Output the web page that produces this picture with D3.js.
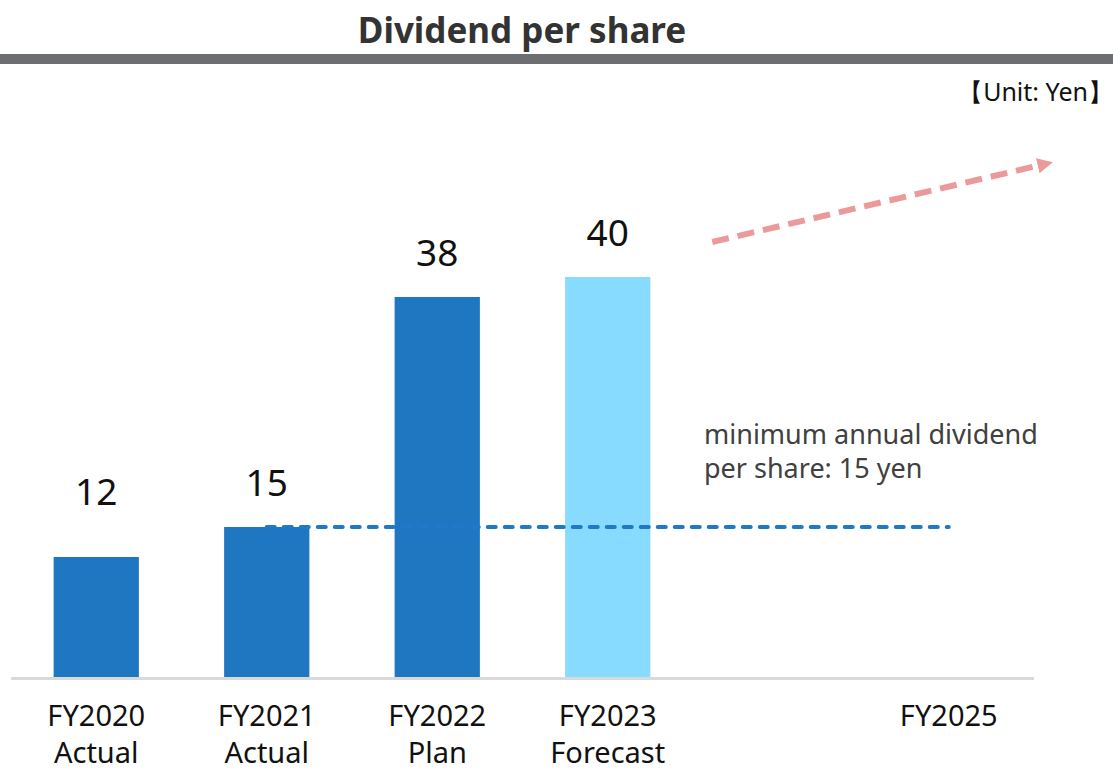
<!DOCTYPE html>
<html>
<head>
<meta charset="utf-8">
<script src="https://cdn.jsdelivr.net/npm/d3@7.9.0/dist/d3.min.js"></script>
<style>
  body { margin: 0; background: #fff; }
  svg { display: block; font-family: "Noto Sans", "Open Sans", sans-serif; }
</style>
</head>
<body>
<svg width="1113" height="773"></svg>
<script>
// data
const years = ['FY2020', 'FY2021', 'FY2022', 'FY2023', 'FY2024', 'FY2025'];
const subLabels = ['Actual', 'Actual', 'Plan', 'Forecast', '', ''];
const shownYears = ['FY2020', 'FY2021', 'FY2022', 'FY2023', '', 'FY2025'];
const dividends = [12, 15, 38, 40, null, null];
const barKinds = ['actual', 'actual', 'actual', 'forecast', null, null];
const minDividend = 15;

const svg = d3.select('svg');

let x = d3.scaleBand().domain(years).range([11, 1034]).paddingInner(0.5).paddingOuter(0.25);
let y = d3.scaleLinear().domain([0, 40]).range([677, 277]);
let colors = { actual: '#1f77c1', forecast: '#87dbfe' };

// title + grey rule
svg.append('text')
  .attr('x', 522).attr('y', 43)
  .attr('text-anchor', 'middle')
  .attr('font-size', 35).attr('font-weight', 'bold')
  .attr('fill', '#333')
  .text('Dividend per share');
svg.append('rect')
  .attr('x', 0).attr('y', 54).attr('width', 1113).attr('height', 10)
  .attr('fill', '#6d6e71');

svg.append('text')
  .attr('x', 1113).attr('y', 101)
  .attr('text-anchor', 'end')
  .attr('font-size', 25).attr('fill', '#111')
  .text('【Unit: Yen】');

// bars
const barData = years.map((yr, i) => ({ yr, v: dividends[i], kind: barKinds[i] }))
  .filter((d) => d.v != null);

svg.selectAll('rect.bar')
  .data(barData)
  .join('rect')
  .attr('class', 'bar')
  .attr('x', (d) => x(d.yr))
  .attr('y', (d) => y(d.v))
  .attr('width', x.bandwidth())
  .attr('height', (d) => y(0) - y(d.v))
  .attr('fill', (d) => colors[d.kind]);

svg.selectAll('text.val')
  .data(barData)
  .join('text')
  .attr('class', 'val')
  .attr('x', (d) => x(d.yr) + x.bandwidth() / 2)
  .attr('y', (d, i) => y(d.v) - (i === 0 ? 52 : 31))
  .attr('text-anchor', 'middle')
  .attr('font-size', 37).attr('fill', '#111')
  .text((d) => d.v);

// baseline
svg.append('line')
  .attr('x1', 11).attr('x2', 1034)
  .attr('y1', y(0) + 1.5).attr('y2', y(0) + 1.5)
  .attr('stroke', '#d9d9d9').attr('stroke-width', 3);

// x labels
const xl = svg.selectAll('g.xl')
  .data(years.map((yr, i) => ({ yr, top: shownYears[i], sub: subLabels[i] })))
  .join('g')
  .attr('class', 'xl')
  .attr('transform', (d) => `translate(${x(d.yr) + x.bandwidth() / 2},0)`);
xl.append('text')
  .attr('y', 726).attr('text-anchor', 'middle')
  .attr('font-size', 29).attr('fill', '#111')
  .text((d) => d.top);
xl.append('text')
  .attr('y', 763).attr('text-anchor', 'middle')
  .attr('font-size', 29).attr('fill', '#111')
  .text((d) => d.sub);

// minimum dividend dashed line
const cx = (yr) => x(yr) + x.bandwidth() / 2;
svg.append('line')
  .attr('x1', cx('FY2021')).attr('x2', cx('FY2025'))
  .attr('y1', y(minDividend)).attr('y2', y(minDividend))
  .attr('stroke', '#1f78c8').attr('stroke-width', 4)
  .attr('stroke-linecap', 'round')
  .attr('stroke-dasharray', '8 9');

const note = svg.append('text')
  .attr('font-size', 27).attr('fill', '#404040');
note.append('tspan').attr('x', 704).attr('y', 444).text('minimum annual dividend');
note.append('tspan').attr('x', 704).attr('y', 478).text('per share: 15 yen');

// upward trend arrow
svg.append('defs').append('marker')
  .attr('id', 'head')
  .attr('viewBox', '0 0 10 10')
  .attr('refX', 2).attr('refY', 5)
  .attr('markerWidth', 2.6).attr('markerHeight', 2.8)
  .attr('orient', 'auto')
  .append('path').attr('d', 'M0,0L10,5L0,10Z').attr('fill', '#ea9a9a');

svg.append('line')
  .attr('x1', cx('FY2024') - 66).attr('y1', y(43.5))
  .attr('x2', cx('FY2025') + 92).attr('y2', y(51.2))
  .attr('stroke', '#ea9a9a').attr('stroke-width', 6)
  .attr('stroke-dasharray', '17 9')
  .attr('marker-end', 'url(#head)');
</script>
</body>
</html>
